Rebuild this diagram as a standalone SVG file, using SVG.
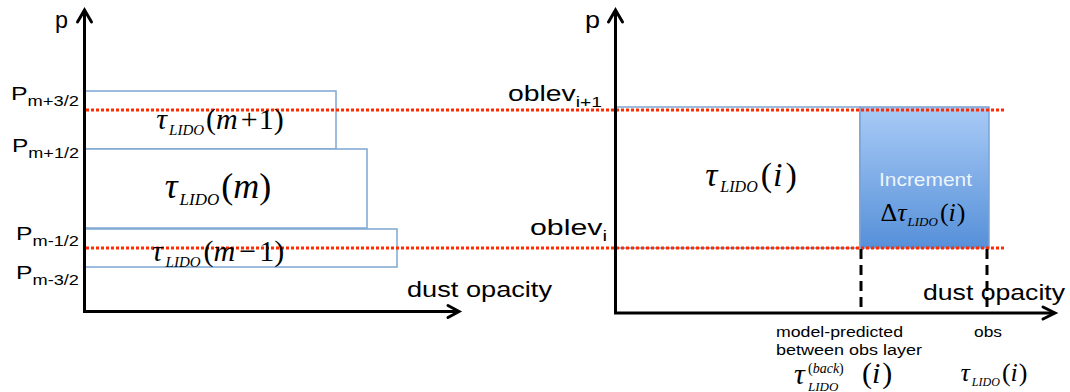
<svg xmlns="http://www.w3.org/2000/svg" width="1070" height="392" viewBox="0 0 1070 392">
<defs>
<linearGradient id="incGrad" x1="0" y1="0" x2="0" y2="1">
<stop offset="0" stop-color="#a9cbf6"/>
<stop offset="1" stop-color="#5690d9"/>
</linearGradient>
<style>
.ax{stroke:#000;stroke-width:3;fill:none}
.ah{stroke:#000;stroke-width:3;fill:none;stroke-linecap:round;stroke-linejoin:miter}
.lay{fill:#fff;stroke:#7ea6d2;stroke-width:1.5}
.red{stroke:#ff2a00;stroke-width:3;stroke-dasharray:3 2;fill:none}
.dash{stroke:#000;stroke-width:3;stroke-dasharray:10 6;fill:none}
.lbl{font-family:"Liberation Sans",Arial,sans-serif;fill:#000}
.math{font-family:"Liberation Serif","Times New Roman",serif;fill:#000;font-weight:normal}
.it{font-style:italic}
</style>
</defs>

<g id="left-layers">
<rect id="layer-m-plus-1" class="lay" x="85" y="91" width="251" height="58"/>
<rect id="layer-m" class="lay" x="85" y="149" width="282" height="79"/>
<rect id="layer-m-minus-1" class="lay" x="85" y="229" width="312" height="38"/>
</g>

<g id="right-layers">
<rect id="layer-i" class="lay" x="616" y="107" width="244" height="141"/>
<rect id="increment" x="860" y="107" width="129" height="141" fill="url(#incGrad)" stroke="#7aa3d4" stroke-width="1.5"/>
</g>

<g id="connectors">
<line class="red" x1="86" y1="110" x2="1006" y2="110"/>
<line class="red" x1="86" y1="248" x2="1006" y2="248"/>
<line class="dash" x1="861" y1="249" x2="861" y2="312"/>
<line class="dash" x1="987" y1="249" x2="987" y2="312"/>
<polyline class="ax" points="84.5,11 84.5,311.5 458,311.5"/>
<polyline class="ah" points="77.5,22 84.5,10 91.5,22"/>
<polyline class="ah" points="448,305.5 459,311.5 448,317.5"/>
<polyline class="ax" points="615.5,11 615.5,313 1054,313"/>
<polyline class="ah" points="608.5,22 615.5,10 622.5,22"/>
<polyline class="ah" points="1043,307 1055,313 1043,319"/>
</g>

<g id="left-labels">
<text class="lbl" x="55" y="28" font-size="24" textLength="13" lengthAdjust="spacingAndGlyphs">p</text>
<text class="lbl" x="11" y="100" font-size="19" textLength="68" lengthAdjust="spacingAndGlyphs">P<tspan font-size="14" dy="6">m+3/2</tspan></text>
<text class="lbl" x="12" y="152" font-size="19" textLength="67" lengthAdjust="spacingAndGlyphs">P<tspan font-size="14" dy="6">m+1/2</tspan></text>
<text class="lbl" x="16" y="240" font-size="19" textLength="63" lengthAdjust="spacingAndGlyphs">P<tspan font-size="14" dy="6">m-1/2</tspan></text>
<text class="lbl" x="16" y="279" font-size="19" textLength="63" lengthAdjust="spacingAndGlyphs">P<tspan font-size="14" dy="6">m-3/2</tspan></text>
<text class="lbl" x="407" y="297" font-size="22" textLength="145" lengthAdjust="spacingAndGlyphs">dust opacity</text>
</g>

<g id="left-math">
<text class="math" x="220" y="129" font-size="30" text-anchor="middle"><tspan class="it">τ</tspan><tspan class="it" font-size="15" dy="6" dx="2">LIDO</tspan><tspan dy="-6" dx="2">(</tspan><tspan class="it">m</tspan><tspan dx="3">+</tspan><tspan dx="1">1)</tspan></text>
<text class="math" x="218" y="198" font-size="36" text-anchor="middle"><tspan class="it">τ</tspan><tspan class="it" font-size="17" dy="7" dx="2">LIDO</tspan><tspan dy="-7" dx="2">(</tspan><tspan class="it">m</tspan>)</text>
<text class="math" x="218" y="261" font-size="30" text-anchor="middle"><tspan class="it">τ</tspan><tspan class="it" font-size="15" dy="6" dx="3">LIDO</tspan><tspan dy="-6" dx="3">(</tspan><tspan class="it">m</tspan><tspan dx="4">−</tspan><tspan dx="3">1</tspan>)</text>
</g>

<g id="right-labels">
<text class="lbl" x="585" y="28" font-size="24" textLength="15" lengthAdjust="spacingAndGlyphs">p</text>
<text class="lbl" x="508" y="101" font-size="22" textLength="94" lengthAdjust="spacingAndGlyphs">oblev<tspan font-size="15" dy="6">i+1</tspan></text>
<text class="lbl" x="530" y="235" font-size="22" textLength="77" lengthAdjust="spacingAndGlyphs">oblev<tspan font-size="15" dy="6">i</tspan></text>
<text class="lbl" x="923" y="300" font-size="22" textLength="142" lengthAdjust="spacingAndGlyphs">dust opacity</text>
<text class="lbl" x="776" y="337" font-size="14" textLength="127" lengthAdjust="spacingAndGlyphs">model-predicted</text>
<text class="lbl" x="776" y="355" font-size="14" textLength="146" lengthAdjust="spacingAndGlyphs">between obs layer</text>
<text class="lbl" x="974" y="337" font-size="14" textLength="28" lengthAdjust="spacingAndGlyphs">obs</text>
<text class="lbl" x="879" y="186" font-size="19" textLength="93" lengthAdjust="spacingAndGlyphs" style="fill:#eef4fc">Increment</text>
</g>

<g id="right-math">
<text class="math" x="751" y="186" font-size="34" text-anchor="middle"><tspan class="it">τ</tspan><tspan class="it" font-size="16" dy="6" dx="3">LIDO</tspan><tspan dy="-6" dx="3">(</tspan><tspan class="it" dx="1">i</tspan><tspan dx="3">)</tspan></text>
<text class="math" x="923" y="221" font-size="26" text-anchor="middle">Δ<tspan class="it">τ</tspan><tspan class="it" font-size="13" dy="5" dx="1">LIDO</tspan><tspan dy="-5" dx="2">(</tspan><tspan class="it">i</tspan><tspan dx="1">)</tspan></text>
<text class="math it" x="794" y="384" font-size="30">τ</text>
<text class="math" x="808" y="373" font-size="14">(<tspan class="it">back</tspan>)</text>
<text class="math" x="808" y="391" font-size="13"><tspan class="it">LIDO</tspan></text>
<text class="math" x="862" y="383" font-size="30">(<tspan class="it">i</tspan><tspan dx="2">)</tspan></text>
<text class="math" x="994" y="381" font-size="26" text-anchor="middle"><tspan class="it">τ</tspan><tspan class="it" font-size="12" dy="5" dx="2">LIDO</tspan><tspan dy="-5" dx="2">(</tspan><tspan class="it">i</tspan><tspan dx="1">)</tspan></text>
</g>
</svg>
